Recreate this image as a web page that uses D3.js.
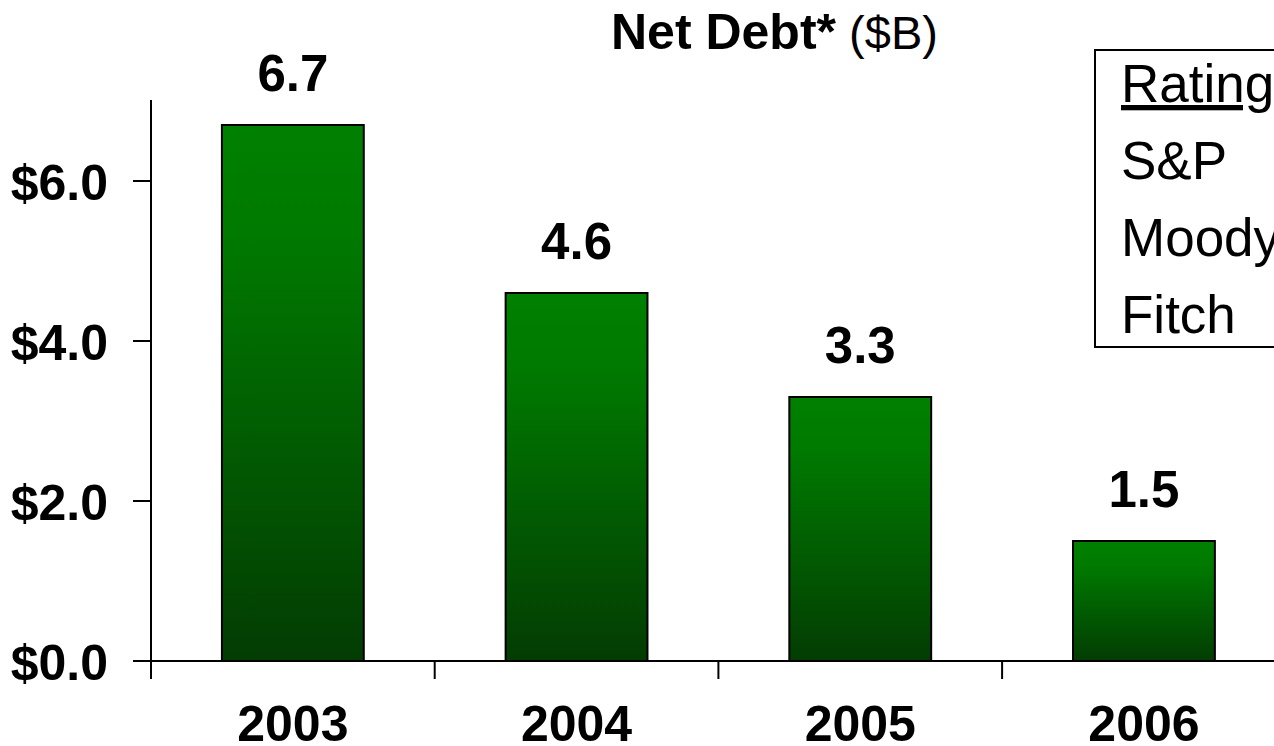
<!DOCTYPE html>
<html>
<head>
<meta charset="utf-8">
<script src="https://cdn.jsdelivr.net/npm/d3@7"></script>
<style>
  body { margin: 0; background: #fff; overflow: hidden; }
  text { font-family: "Liberation Sans", Arial, sans-serif; }
</style>
</head>
<body>
<div class="chart"></div>
<script>
// data
const years = ["2003", "2004", "2005", "2006"];
const netDebt = [6.7, 4.6, 3.3, 1.5];
const yTicks = [0, 2, 4, 6];
const ratingRows = ["S&P", "Moody", "Fitch"];

const width = 1274, height = 746;
const plotLeft = 151, plotBottom = 661, plotTop = 101;

const svg = d3.select("div.chart").append("svg")
    .attr("width", width)
    .attr("height", height);

// bar gradient, per bar
const grad = svg.append("defs").append("linearGradient")
    .attr("id", "barFill")
    .attr("x1", 0).attr("y1", 0).attr("x2", 0).attr("y2", 1);
grad.append("stop").attr("offset", "0%").attr("stop-color", "#008000");
grad.append("stop").attr("offset", "20%").attr("stop-color", "#007a00");
grad.append("stop").attr("offset", "100%").attr("stop-color", "#033c03");

const x = d3.scaleBand()
    .domain(years)
    .range([plotLeft, plotLeft + 4 * 283.7])
    .paddingInner(0.5)
    .paddingOuter(0.25);

const y = d3.scaleLinear()
    .domain([0, 7])
    .range([plotBottom, plotTop]);

// bars
svg.selectAll("rect.bar")
    .data(netDebt)
    .enter().append("rect")
    .attr("class", "bar")
    .attr("x", (d, i) => x(years[i]))
    .attr("y", d => y(d))
    .attr("width", x.bandwidth())
    .attr("height", d => y(0) - y(d))
    .style("fill", "url(#barFill)")
    .style("stroke", "black")
    .style("stroke-width", 2);

// value labels
svg.selectAll("text.value")
    .data(netDebt)
    .enter().append("text")
    .attr("class", "value")
    .attr("x", (d, i) => x(years[i]) + x.bandwidth() / 2)
    .attr("y", d => y(d) - 34)
    .attr("text-anchor", "middle")
    .style("font-size", "51px")
    .style("font-weight", "bold")
    .text(d => d.toFixed(1));

// y axis
const yAxis = svg.append("g").attr("class", "y-axis");
yAxis.append("line")
    .attr("x1", plotLeft).attr("x2", plotLeft)
    .attr("y1", 100).attr("y2", plotBottom)
    .style("stroke", "black").style("stroke-width", 2);
yAxis.selectAll("line.tick")
    .data(yTicks)
    .enter().append("line")
    .attr("class", "tick")
    .attr("x1", plotLeft - 18).attr("x2", plotLeft)
    .attr("y1", d => y(d)).attr("y2", d => y(d))
    .style("stroke", "black").style("stroke-width", 2);
yAxis.selectAll("text")
    .data(yTicks)
    .enter().append("text")
    .attr("x", 108)
    .attr("y", d => y(d) + 19)
    .attr("text-anchor", "end")
    .style("font-size", "50px")
    .style("font-weight", "bold")
    .text(d => "$" + d.toFixed(1));

// x axis
const step = x.step();
const edges = years.map(d => x(d) - step * x.paddingInner() / 2);
const xAxis = svg.append("g").attr("class", "x-axis");
xAxis.append("line")
    .attr("x1", plotLeft - 18).attr("x2", width)
    .attr("y1", plotBottom).attr("y2", plotBottom)
    .style("stroke", "black").style("stroke-width", 2);
xAxis.selectAll("line.tick")
    .data(edges)
    .enter().append("line")
    .attr("class", "tick")
    .attr("x1", d => d).attr("x2", d => d)
    .attr("y1", plotBottom).attr("y2", plotBottom + 18)
    .style("stroke", "black").style("stroke-width", 2);
xAxis.selectAll("text")
    .data(years)
    .enter().append("text")
    .attr("x", d => x(d) + x.bandwidth() / 2)
    .attr("y", 741)
    .attr("text-anchor", "middle")
    .style("font-size", "50px")
    .style("font-weight", "bold")
    .text(d => d);

// title
const title = svg.append("text")
    .attr("x", 611)
    .attr("y", 49);
title.append("tspan")
    .style("font-size", "50px")
    .style("font-weight", "bold")
    .text("Net Debt*");
title.append("tspan")
    .style("font-size", "47px")
    .text(" ($B)");

// ratings box (runs off the right edge)
const legend = svg.append("g").attr("class", "ratings");
legend.append("rect")
    .attr("x", 1095).attr("y", 50)
    .attr("width", 300).attr("height", 297)
    .style("fill", "white")
    .style("stroke", "black").style("stroke-width", 2);
legend.append("text")
    .attr("x", 1121).attr("y", 102)
    .style("font-size", "53px")
    .style("text-decoration", "underline")
    .text("Rating");
legend.selectAll("text.row")
    .data(ratingRows)
    .enter().append("text")
    .attr("class", "row")
    .attr("x", 1121)
    .attr("y", (d, i) => 179 + i * 77)
    .style("font-size", "53px")
    .text(d => d);
</script>
</body>
</html>
